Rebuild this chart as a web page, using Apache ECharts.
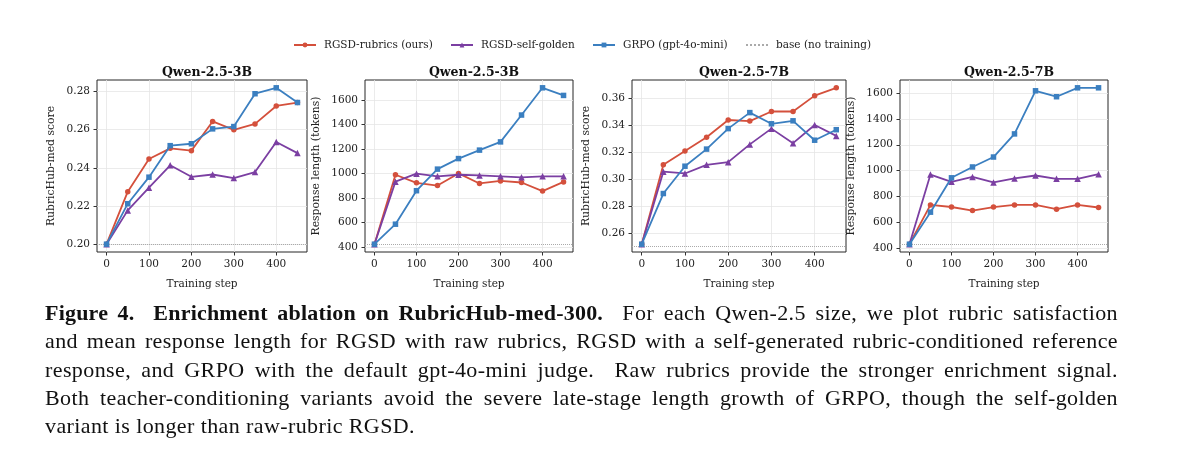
<!DOCTYPE html>
<html>
<head>
<meta charset="utf-8">
<script src="https://cdn.jsdelivr.net/npm/echarts@6/dist/echarts.min.js"></script>
<style>
html, body { margin: 0; padding: 0; background: #fff; }
#chart { position: absolute; left: 0; top: 0; width: 1200px; height: 461px; }
#caption { position: absolute; left: 45px; top: 299px; width: 1073px; font-family: "Liberation Serif", serif; font-size: 22px; letter-spacing: 0.4px; line-height: 28.3px; color: #111; }
#caption b { font-size: 22px; letter-spacing: 0.2px; }
#caption .j { text-align: justify; text-align-last: justify; }
</style>
</head>
<body>
<div id="chart"></div>
<div id="caption">
  <div class="j"><b>Figure 4.&nbsp; Enrichment ablation on RubricHub-med-300.</b>&nbsp; For each Qwen-2.5 size, we plot rubric satisfaction</div>
  <div class="j">and mean response length for RGSD with raw rubrics, RGSD with a self-generated rubric-conditioned reference</div>
  <div class="j">response, and GRPO with the default gpt-4o-mini judge.&nbsp; Raw rubrics provide the stronger enrichment signal.</div>
  <div class="j">Both teacher-conditioning variants avoid the severe late-stage length growth of GRPO, though the self-golden</div>
  <div>variant is longer than raw-rubric RGSD.</div>
</div>
<script>
var steps = [0, 50, 100, 150, 200, 250, 300, 350, 400, 450];
var seriesNames = ['RGSD-rubrics (ours)', 'RGSD-self-golden', 'GRPO (gpt-4o-mini)', 'base (no training)'];
var panelTitles = ['Qwen-2.5-3B', 'Qwen-2.5-3B', 'Qwen-2.5-7B', 'Qwen-2.5-7B'];
var yNames = ['RubricHub-med score', 'Response length (tokens)', 'RubricHub-med score', 'Response length (tokens)'];

// Qwen-2.5-3B score
var score3bRubrics = [0.200, 0.2275, 0.2446, 0.2502, 0.2490, 0.2643, 0.2599, 0.2630, 0.2724, 0.2742];
var score3bGolden  = [0.200, 0.2177, 0.2296, 0.2413, 0.2353, 0.2365, 0.2346, 0.2378, 0.2535, 0.2477];
var score3bGrpo    = [0.200, 0.2212, 0.2351, 0.2516, 0.2526, 0.2604, 0.2616, 0.2788, 0.2819, 0.2742];
// Qwen-2.5-3B length
var len3bRubrics = [424, 990, 924, 902, 1001, 919, 940, 927, 857, 932];
var len3bGolden  = [424, 934, 999, 977, 990, 985, 977, 969, 977, 977];
var len3bGrpo    = [424, 587, 860, 1036, 1122, 1191, 1258, 1477, 1699, 1637];
// Qwen-2.5-7B score
var score7bRubrics = [0.2517, 0.3106, 0.3209, 0.3311, 0.3439, 0.3431, 0.3502, 0.3502, 0.3620, 0.3678];
var score7bGolden  = [0.2517, 0.3055, 0.3042, 0.3106, 0.3126, 0.3258, 0.3375, 0.3267, 0.3402, 0.3321];
var score7bGrpo    = [0.2517, 0.2893, 0.3096, 0.3223, 0.3375, 0.3494, 0.3411, 0.3433, 0.3289, 0.3367];
// Qwen-2.5-7B length
var len7bRubrics = [430, 734, 718, 690, 717, 734, 734, 701, 734, 714];
var len7bGolden  = [430, 969, 913, 951, 908, 939, 962, 936, 936, 972];
var len7bGrpo    = [430, 678, 944, 1028, 1105, 1284, 1618, 1572, 1641, 1641];

var baseValues = [0.200, 424, 0.251, 430];

var xTicks = [0, 100, 200, 300, 400];
var yTicksScore3b = [0.20, 0.22, 0.24, 0.26, 0.28];
var yTicksLen = [400, 600, 800, 1000, 1200, 1400, 1600];
var yTicksScore7b = [0.26, 0.28, 0.30, 0.32, 0.34, 0.36];

var panelData = [
  [score3bRubrics, score3bGolden, score3bGrpo],
  [len3bRubrics, len3bGolden, len3bGrpo],
  [score7bRubrics, score7bGolden, score7bGrpo],
  [len7bRubrics, len7bGolden, len7bGrpo]
];
var panelYTicks = [yTicksScore3b, yTicksLen, yTicksScore7b, yTicksLen];

var colors = ['#d4503c', '#7b3fa2', '#3b7fc0'];
var symbols = ['circle', 'triangle', 'rect'];
var symbolSizes = [5.5, 6.5, 5.5];
var fontFamily = 'DejaVu Serif';

var gridBoxes = [
  { left: 97, width: 210 },
  { left: 365, width: 208 },
  { left: 632, width: 214 },
  { left: 900, width: 208 }
];
var yNameGaps = [40, 43, 40, 43];

// matplotlib-like 5% margins
function paddedRange(arrs) {
  var lo = Infinity, hi = -Infinity;
  arrs.forEach(function (a) { a.forEach(function (v) { lo = Math.min(lo, v); hi = Math.max(hi, v); }); });
  var pad = (hi - lo) * 0.05;
  return [lo - pad, hi + pad];
}
var xPad = (steps[steps.length - 1] - steps[0]) * 0.05;

var myChart = echarts.init(document.getElementById('chart'));

var grid = [], xAxis = [], yAxis = [], title = [], series = [];

for (var p = 0; p < 4; p++) {
  grid.push({
    left: gridBoxes[p].left, width: gridBoxes[p].width, top: 80, height: 172,
    show: true, borderColor: '#262626', borderWidth: 1, backgroundColor: 'transparent'
  });
  title.push({
    text: panelTitles[p],
    left: gridBoxes[p].left + gridBoxes[p].width / 2,
    top: 61,
    textAlign: 'center',
    textStyle: { fontFamily: fontFamily, fontWeight: 'bold', fontSize: 12.5, color: '#111' }
  });
  xAxis.push({
    type: 'value', gridIndex: p,
    min: steps[0] - xPad, max: steps[steps.length - 1] + xPad,
    name: 'Training step', nameLocation: 'middle', nameGap: 27,
    nameTextStyle: { fontFamily: fontFamily, fontSize: 10.5, color: '#222' },
    axisLine: { show: false, onZero: false },
    axisTick: { show: true, length: 3.5, inside: false, customValues: xTicks, lineStyle: { color: '#333' } },
    axisLabel: { customValues: xTicks, margin: 7, fontFamily: fontFamily, fontSize: 10.5, color: '#222' },
    splitLine: { show: true, lineStyle: { color: '#e6e6e6', width: 0.8 } }
  });
  var yr = paddedRange(panelData[p]);
  var isScore = (p % 2 === 0);
  yAxis.push({
    type: 'value', gridIndex: p,
    min: yr[0], max: yr[1],
    name: yNames[p], nameLocation: 'middle', nameGap: yNameGaps[p], nameRotate: 90,
    nameTextStyle: { fontFamily: fontFamily, fontSize: 10.8, color: '#222' },
    axisLine: { show: false, onZero: false },
    axisTick: { show: true, length: 3.5, inside: false, customValues: panelYTicks[p], lineStyle: { color: '#333' } },
    axisLabel: {
      customValues: panelYTicks[p], margin: 7, fontFamily: fontFamily, fontSize: 10.5, color: '#222',
      formatter: isScore ? function (v) { return v.toFixed(2); } : function (v) { return String(Math.round(v)); }
    },
    splitLine: { show: true, lineStyle: { color: '#e6e6e6', width: 0.8 } }
  });
  // base line
  series.push({
    name: seriesNames[3], type: 'line', xAxisIndex: p, yAxisIndex: p,
    data: [], symbol: 'none', z: 1,
    lineStyle: { type: 'dotted', color: '#aaaaaa', width: 1 },
    itemStyle: { color: '#aaaaaa' },
    markLine: {
      silent: true, symbol: 'none', animation: false,
      label: { show: false },
      lineStyle: { type: 'dotted', color: '#aaaaaa', width: 1 },
      data: [{ yAxis: baseValues[p] }]
    }
  });
  for (var s = 0; s < 3; s++) {
    var vals = panelData[p][s];
    series.push({
      name: seriesNames[s], type: 'line', xAxisIndex: p, yAxisIndex: p,
      data: steps.map(function (x, i) { return [x, vals[i]]; }),
      symbol: symbols[s], symbolSize: symbolSizes[s], showSymbol: true,
      lineStyle: { color: colors[s], width: 1.8 },
      itemStyle: { color: colors[s] },
      z: 3 + s,
      animation: false
    });
  }
}

var legendLefts = [293, 450, 592, 745];
var legend = seriesNames.map(function (n, i) {
  var item = { name: n };
  if (i === 3) item.itemStyle = { color: 'rgba(0,0,0,0)', borderWidth: 0 };
  return {
    data: [item], left: legendLefts[i], top: 39.5, padding: 0,
    itemWidth: 22, itemHeight: 6,
    textStyle: { fontFamily: fontFamily, fontSize: 10.5, color: '#222', padding: [0, 0, 0, 3] }
  };
});

var option = {
  animation: false,
  color: colors,
  title: title,
  legend: legend,
  grid: grid,
  xAxis: xAxis,
  yAxis: yAxis,
  series: series
};

myChart.setOption(option);
</script>
</body>
</html>
